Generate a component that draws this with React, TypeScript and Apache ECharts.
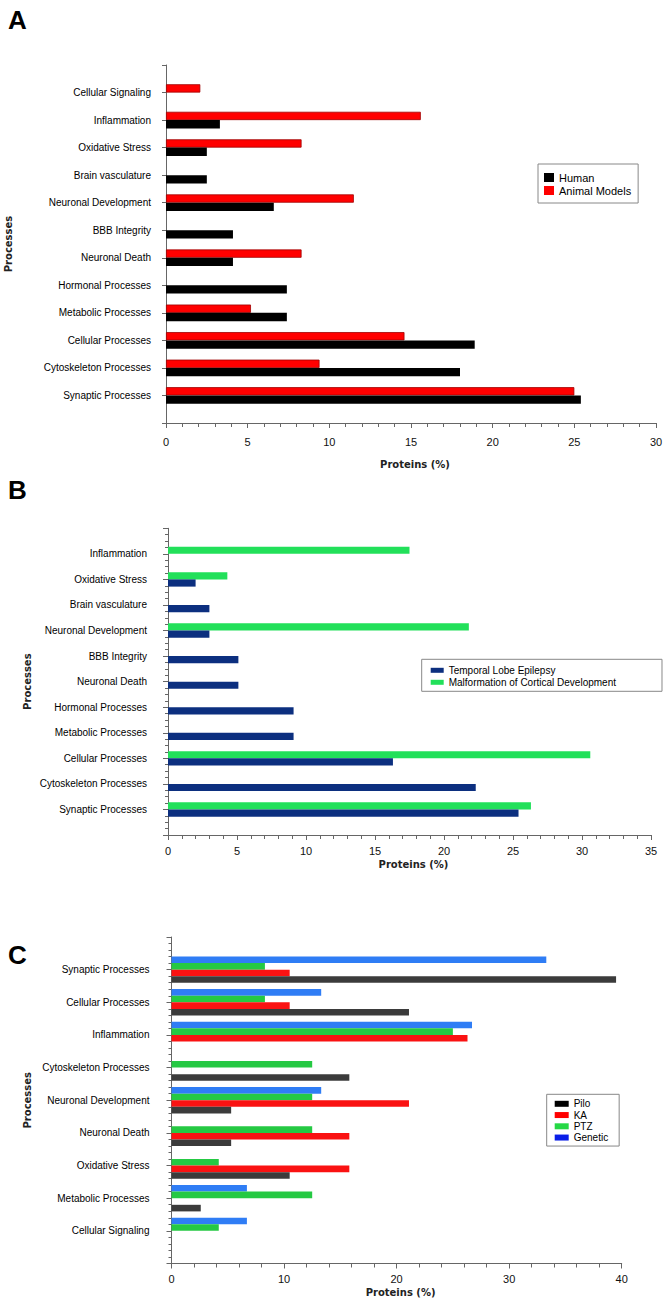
import React, { useEffect, useRef } from 'react';
import * as echarts from 'echarts';

// ---------- Panel A ----------
const catsA = ['Cellular Signaling', 'Inflammation', 'Oxidative Stress', 'Brain vasculature', 'Neuronal Development', 'BBB Integrity', 'Neuronal Death', 'Hormonal Processes', 'Metabolic Processes', 'Cellular Processes', 'Cytoskeleton Processes', 'Synaptic Processes'];
const humanA = [null, 3.3, 2.5, 2.5, 6.6, 4.1, 4.1, 7.4, 7.4, 18.9, 18.0, 25.4];
const animalA = [2.1, 15.6, 8.3, null, 11.5, null, 8.3, null, 5.2, 14.6, 9.4, 25.0];
const xTicksA = [0, 5, 10, 15, 20, 25, 30];

// ---------- Panel B ----------
const catsB = ['Inflammation', 'Oxidative Stress', 'Brain vasculature', 'Neuronal Development', 'BBB Integrity', 'Neuronal Death', 'Hormonal Processes', 'Metabolic Processes', 'Cellular Processes', 'Cytoskeleton Processes', 'Synaptic Processes'];
const tleB = [null, 2.0, 3.0, 3.0, 5.1, 5.1, 9.1, 9.1, 16.3, 22.3, 25.4];
const mcdB = [17.5, 4.3, null, 21.8, null, null, null, null, 30.6, null, 26.3];
const xTicksB = [0, 5, 10, 15, 20, 25, 30, 35];

// ---------- Panel C ----------
const catsC = ['Synaptic Processes', 'Cellular Processes', 'Inflammation', 'Cytoskeleton Processes', 'Neuronal Development', 'Neuronal Death', 'Oxidative Stress', 'Metabolic Processes', 'Cellular Signaling'];
const piloC = [39.5, 21.1, null, 15.8, 5.3, 5.3, 10.5, 2.6, null];
const kaC = [10.5, 10.5, 26.3, null, 21.1, 15.8, 15.8, null, null];
const ptzC = [8.3, 8.3, 25.0, 12.5, 12.5, 12.5, 4.2, 12.5, 4.2];
const geneticC = [33.3, 13.3, 26.7, null, 13.3, null, null, 6.7, 6.7];
const xTicksC = [0, 10, 20, 30, 40];

const SANS = "'Liberation Sans', Arial, sans-serif";
const NARROW = "'Liberation Sans Narrow', 'Liberation Sans', Arial, sans-serif";
const BOLDF = "'DejaVu Sans', Verdana, sans-serif";

type S = { name: string; data: (number | null)[]; color: string; legendColor: string; border?: string };
type Panel = {
  left: number; right: number; top: number; axisY: number;
  pad: number;
  cats: string[]; xTicks: number[]; xMinor: number;
  series: S[]; legendOrder: string[]; barWidth: number;
  yMinor: number; yTickLen: number; labelMargin: number; xLabelMargin: number;
  nameGapX: number; nameGapY: number;
  legend: any;
};

function build(panels: Panel[]) {
  const grid: any[] = [], xAxis: any[] = [], yAxis: any[] = [], series: any[] = [], legend: any[] = [];
  panels.forEach((p) => {
    const n = p.cats.length;
    const totalBands = n - 1 + 2 * p.pad;
    const h = p.axisY - p.top;
    const band = h / totalBands;
    const gFull = grid.length;
    grid.push({ left: p.left, right: p.right, top: p.top, height: h, containLabel: false, outerBoundsMode: 'none' });
    grid.push({ left: p.left, right: p.right, top: p.top + band * (p.pad - 0.5), height: band * n, containLabel: false, outerBoundsMode: 'none' });
    const xmin = p.xTicks[0], xmax = p.xTicks[p.xTicks.length - 1], step = p.xTicks[1] - p.xTicks[0];
    xAxis.push({
      type: 'value', gridIndex: gFull, min: xmin, max: xmax, interval: step, position: 'bottom',
      axisLine: { show: true, onZero: false, lineStyle: { color: '#666', width: 1 } },
      axisTick: { show: true, length: 5, lineStyle: { color: '#666' } },
      minorTick: { show: true, splitNumber: p.xMinor, length: 4, lineStyle: { color: '#666' } },
      splitLine: { show: false }, minorSplitLine: { show: false },
      axisLabel: { margin: p.xLabelMargin, fontFamily: NARROW, fontSize: 11, color: '#111' },
      name: 'Proteins (%)', nameLocation: 'middle', nameGap: p.nameGapX,
      nameTextStyle: { fontFamily: BOLDF, fontWeight: 'bold', fontSize: 10, color: '#222', padding: [0, 0, 0, 8] },
    });
    xAxis.push({ type: 'value', gridIndex: gFull + 1, min: xmin, max: xmax, show: false });
    yAxis.push({
      type: 'value', gridIndex: gFull, min: 0, max: totalBands, interval: 1, inverse: true, position: 'left',
      axisLine: { show: true, onZero: false, lineStyle: { color: '#666', width: 1 } },
      axisTick: { show: true, length: p.yTickLen, lineStyle: { color: '#666' } },
      minorTick: { show: p.yMinor > 1, splitNumber: Math.max(p.yMinor, 1), length: 3, lineStyle: { color: '#666' } },
      axisLabel: { show: false }, splitLine: { show: false }, minorSplitLine: { show: false },
      name: 'Processes', nameLocation: 'middle', nameGap: p.nameGapY, nameRotate: 90,
      nameTextStyle: { fontFamily: BOLDF, fontWeight: 'bold', fontSize: 10, color: '#222' },
    });
    const yCat = yAxis.length;
    yAxis.push({
      type: 'category', gridIndex: gFull + 1, data: p.cats, inverse: true,
      axisLine: { show: false, onZero: false }, axisTick: { show: false },
      axisLabel: { margin: p.labelMargin, fontFamily: SANS, fontSize: 10, color: '#000' },
    });
    p.series.forEach((s) => {
      series.push({
        type: 'bar', name: s.name, data: s.data, xAxisIndex: gFull + 1, yAxisIndex: yCat,
        barWidth: p.barWidth, barGap: '0%',
        itemStyle: { color: s.color, borderColor: s.border || s.color, borderWidth: s.border ? 0.8 : 0 },
      });
    });
    legend.push({
      ...p.legend,
      orient: 'vertical', icon: 'rect', selectedMode: false,
      borderColor: '#888', borderWidth: 1, backgroundColor: '#fff',
      data: p.legendOrder.map((nm) => {
        const s = p.series.find((q) => q.name === nm)!;
        return { name: nm, itemStyle: { color: s.legendColor, borderWidth: 0 } };
      }),
    });
  });
  return { grid, xAxis, yAxis, series, legend };
}

const panels: Panel[] = [
  {
    left: 166, right: 11, top: 65, axisY: 423, pad: 1,
    cats: catsA, xTicks: xTicksA, xMinor: 5,
    series: [
      { name: 'Animal Models', data: animalA, color: '#ff0000', legendColor: '#ff0000', border: '#a00000' },
      { name: 'Human', data: humanA, color: '#000000', legendColor: '#000000' },
    ],
    legendOrder: ['Human', 'Animal Models'], barWidth: 8.3,
    yMinor: 0, yTickLen: 4, labelMargin: 15, xLabelMargin: 13, nameGapX: 36, nameGapY: 152.5,
    legend: {
      left: 538, top: 164, padding: [8, 7, 7, 6], itemWidth: 10, itemHeight: 9, itemGap: 2, itemTextGap: 5,
      textStyle: { fontFamily: SANS, fontSize: 11, color: '#000', lineHeight: 11 },
    },
  },
  {
    left: 168, right: 16, top: 528.3, axisY: 835, pad: 1,
    cats: catsB, xTicks: xTicksB, xMinor: 5,
    series: [
      { name: 'Malformation of Cortical Development', data: mcdB, color: '#22e05a', legendColor: '#22e05a' },
      { name: 'Temporal Lobe Epilepsy', data: tleB, color: '#0c2f7f', legendColor: '#0c2f7f' },
    ],
    legendOrder: ['Temporal Lobe Epilepsy', 'Malformation of Cortical Development'], barWidth: 7.2,
    yMinor: 4, yTickLen: 5, labelMargin: 21, xLabelMargin: 10, nameGapX: 24, nameGapY: 135.5,
    legend: {
      left: 421.7, top: 659.3, padding: [5, 46, 3, 9], itemWidth: 13, itemHeight: 5, itemGap: 0, itemTextGap: 5,
      textStyle: { fontFamily: SANS, fontSize: 10, color: '#000', lineHeight: 12 },
    },
  },
  {
    left: 171.5, right: 45.3, top: 937, axisY: 1263.5, pad: 1,
    cats: catsC, xTicks: xTicksC, xMinor: 5,
    series: [
      { name: 'Genetic', data: geneticC, color: '#2f7df5', legendColor: '#0a1ee8' },
      { name: 'PTZ', data: ptzC, color: '#25c943', legendColor: '#25d845' },
      { name: 'KA', data: kaC, color: '#fa1212', legendColor: '#ff0000' },
      { name: 'Pilo', data: piloC, color: '#3b3b3b', legendColor: '#000000' },
    ],
    legendOrder: ['Pilo', 'KA', 'PTZ', 'Genetic'], barWidth: 6.6,
    yMinor: 5, yTickLen: 5, labelMargin: 22, xLabelMargin: 10, nameGapX: 24, nameGapY: 139,
    legend: {
      left: 546.7, top: 1094.3, padding: [4, 11, 3, 8], itemWidth: 14, itemHeight: 6, itemGap: 0.25, itemTextGap: 3,
      textStyle: { fontFamily: SANS, fontSize: 10, color: '#000', lineHeight: 11 },
    },
  },
];

export default function App() {
  const ref = useRef<HTMLDivElement>(null);
  useEffect(() => {
    if (!ref.current) return;
    const chart = echarts.init(ref.current, undefined, { renderer: 'svg' });
    const b = build(panels);
    const letter = (t: string, x: number, y: number) => ({
      type: 'text', left: x, top: y,
      style: { text: t, fontFamily: SANS, fontWeight: 'bold', fontSize: 26, fill: '#000' },
    });
    chart.setOption({
      animation: false,
      backgroundColor: '#fff',
      grid: b.grid, xAxis: b.xAxis, yAxis: b.yAxis, series: b.series, legend: b.legend,
      graphic: [letter('A', 8, 7), letter('B', 8, 477), letter('C', 8, 942)],
    });
    return () => chart.dispose();
  }, []);
  return <div ref={ref} style={{ position: 'absolute', left: 0, top: 0, width: 667, height: 1300, background: '#fff' }} />;
}
